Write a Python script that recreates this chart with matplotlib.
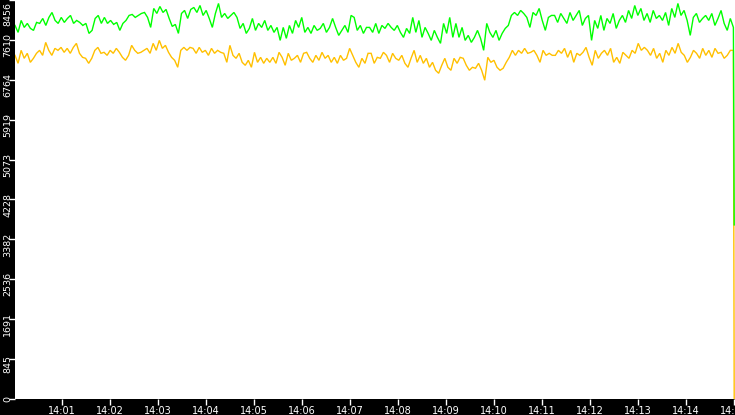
import numpy as np
import matplotlib
matplotlib.use("Agg")
import matplotlib.pyplot as plt
import matplotlib.dates as mdates
import matplotlib.transforms as mtransforms

# ---- data ----
green_vals = [
    7917, 7770, 8023, 7875, 7960, 7854, 7812, 7981, 7960, 8065, 7917, 8087, 8192, 8023, 7960, 8087, 7981, 8065, 8129, 7960, 8023, 7981, 7917, 7960, 7748, 7812, 8065, 8129, 7960,
    8087, 7960, 8023, 7939, 7981, 7812, 7960, 8023, 8129, 8150, 8087, 8129, 8171, 8192, 8087, 7875, 8277, 8171, 8319, 8192, 8256, 8065, 7896, 7939, 7748, 8171, 8235, 8065, 8256,
    8298, 8192, 8340, 8129, 8235, 8065, 7875, 8171, 8383, 8087, 8171, 8065, 8129, 8192, 8087, 7854, 7960, 7748, 7854, 8065, 7812, 7960, 7875, 8023, 7812, 7917, 7770, 7875, 7600,
    7875, 7643, 7917, 7748, 8023, 7875, 8087, 7770, 7875, 7748, 7917, 7812, 7854, 7960, 7770, 7875, 8065, 7875, 7706, 7812, 7917, 7770, 8129, 8087, 7812, 7917, 7748, 7875,
    7875, 7770, 7960, 7748, 7917, 7854, 7960, 7875, 7812, 7917, 7770, 7664, 7854, 7748, 8087, 7770, 8023, 7664, 7875, 7748, 7600, 7812, 7664, 7537, 7960, 7748, 8087, 7664, 7960, 7664,
    7875, 7600, 7706, 7558, 7664, 7812, 7643, 7389, 7960, 7770, 7664, 7812, 7600, 7748, 7854, 7917, 8129, 8192, 8129, 8235, 8171, 8087, 7875, 8192, 8129, 8277, 8023, 7812, 8087, 8129,
    8129, 7981, 8171, 8065, 7960, 8192, 8023, 8129, 8235, 7917, 8065, 8129, 7600, 8023, 7854, 8129, 7812, 8065, 7960, 8171, 7854, 8023, 8129, 7981, 8235, 8065, 8340, 8129, 8277, 8023,
    8171, 7981, 8235, 8065, 8129, 8023, 8192, 7917, 8277, 8087, 8383, 8129, 8235, 8023, 7706, 8087, 8171, 7981, 8065, 8129, 8023, 8171, 7917, 8065, 8235, 7960, 7812, 8065, 7875,
]
green_last = 3690

yellow_vals = [
    7283, 7114, 7389, 7220, 7326, 7135, 7220, 7326, 7389, 7283, 7558, 7389, 7283, 7431, 7389, 7452, 7347, 7431, 7326, 7452, 7537, 7326, 7241, 7220, 7114, 7220, 7389, 7452, 7326,
    7347, 7283, 7389, 7326, 7431, 7347, 7241, 7178, 7283, 7495, 7389, 7326, 7347, 7389, 7431, 7326, 7537, 7389, 7600, 7431, 7495, 7347, 7241, 7178, 7030, 7389, 7452, 7389, 7452,
    7431, 7326, 7452, 7347, 7389, 7283, 7431, 7326, 7389, 7347, 7326, 7135, 7495, 7283, 7220, 7326, 7135, 7072, 7178, 7030, 7347, 7135, 7241, 7114, 7220, 7135, 7241, 7114, 7347,
    7241, 7072, 7326, 7178, 7220, 7283, 7135, 7326, 7347, 7220, 7135, 7283, 7178, 7347, 7220, 7283, 7135, 7241, 7114, 7283, 7178, 7220, 7431, 7283, 7135, 7030, 7220, 7114, 7326,
    7326, 7114, 7241, 7220, 7347, 7283, 7135, 7326, 7220, 7178, 7283, 7114, 7030, 7220, 7389, 7135, 7283, 7114, 7220, 7030, 7135, 6966, 6903, 7072, 7220, 7030, 6966, 7220, 7114, 7241,
    7220, 7072, 6966, 7030, 7009, 7114, 6966, 6755, 7241, 7135, 7178, 7030, 6966, 7009, 7135, 7241, 7389, 7283, 7389, 7326, 7431, 7326, 7347, 7389, 7283, 7135, 7389, 7283, 7326, 7283,
    7283, 7389, 7326, 7431, 7241, 7389, 7135, 7326, 7283, 7347, 7452, 7241, 7072, 7389, 7220, 7326, 7389, 7283, 7431, 7135, 7241, 7114, 7347, 7283, 7220, 7389, 7326, 7537, 7389, 7452,
    7389, 7283, 7431, 7220, 7326, 7135, 7389, 7283, 7452, 7326, 7537, 7347, 7283, 7135, 7241, 7389, 7326, 7220, 7431, 7283, 7389, 7241, 7431, 7326, 7347, 7220, 7283, 7389, 7389,
]
yellow_last = 0

t_start = np.datetime64("2024-01-01T14:00:01")
t_end = np.datetime64("2024-01-01T14:14:59")
t_drop = np.datetime64("2024-01-01T14:15:00")
x_min = np.datetime64("2024-01-01T14:00:01")
x_max = np.datetime64("2024-01-01T14:15:01")

y_max = 8456
n_yticks = 11

GREEN = "#00ff00"
YELLOW = "#ffc000"


def times_for(n):
    span = (t_end - t_start) / np.timedelta64(1, "s")
    secs = np.linspace(0, span, n)
    return t_start + (secs * 1000).astype("timedelta64[ms]")


gx = np.append(times_for(len(green_vals)), t_drop).astype("datetime64[ms]").astype(object)
gy = np.append(np.array(green_vals, float), green_last)
yx = np.append(times_for(len(yellow_vals)), t_drop).astype("datetime64[ms]").astype(object)
yy = np.append(np.array(yellow_vals, float), yellow_last)

fig = plt.figure(figsize=(7.35, 4.15), dpi=100, facecolor="black")
ax = fig.add_axes([15 / 735, 16 / 415, 720 / 735, 399 / 415])
ax.set_facecolor("white")

ax.plot(yx, yy, color=YELLOW, lw=1.0, solid_joinstyle="miter")
ax.plot(gx, gy, color=GREEN, lw=1.0, solid_joinstyle="miter")

ax.set_xlim(x_min.astype(object), x_max.astype(object))
ax.set_ylim(0, y_max)

for s in ax.spines.values():
    s.set_visible(False)

yt = np.linspace(0, y_max, n_yticks)
ax.set_yticks(yt)
ax.set_yticklabels([str(int(v)) for v in yt], rotation=90, va="center")

ax.xaxis.set_major_locator(mdates.MinuteLocator())
ax.xaxis.set_major_formatter(mdates.DateFormatter("%H:%M"))

ax.tick_params(axis="both", colors="white", labelcolor="white",
               length=4, width=1, direction="out")
ax.tick_params(axis="y", pad=-2.0, labelsize=6.8)
ax.tick_params(axis="x", pad=1, labelsize=7)

# shift y labels slightly below their ticks, like the reference
labs = ax.get_yticklabels()
for i, lab in enumerate(labs):
    if i == 0:
        continue
    if i == len(labs) - 1:
        lab.set_va("top")
        dy = -2
    else:
        dy = -5
    off = mtransforms.ScaledTranslation(0, dy / 100, fig.dpi_scale_trans)
    lab.set_transform(lab.get_transform() + off)

fig.savefig("out.png", dpi=100, facecolor="black")
